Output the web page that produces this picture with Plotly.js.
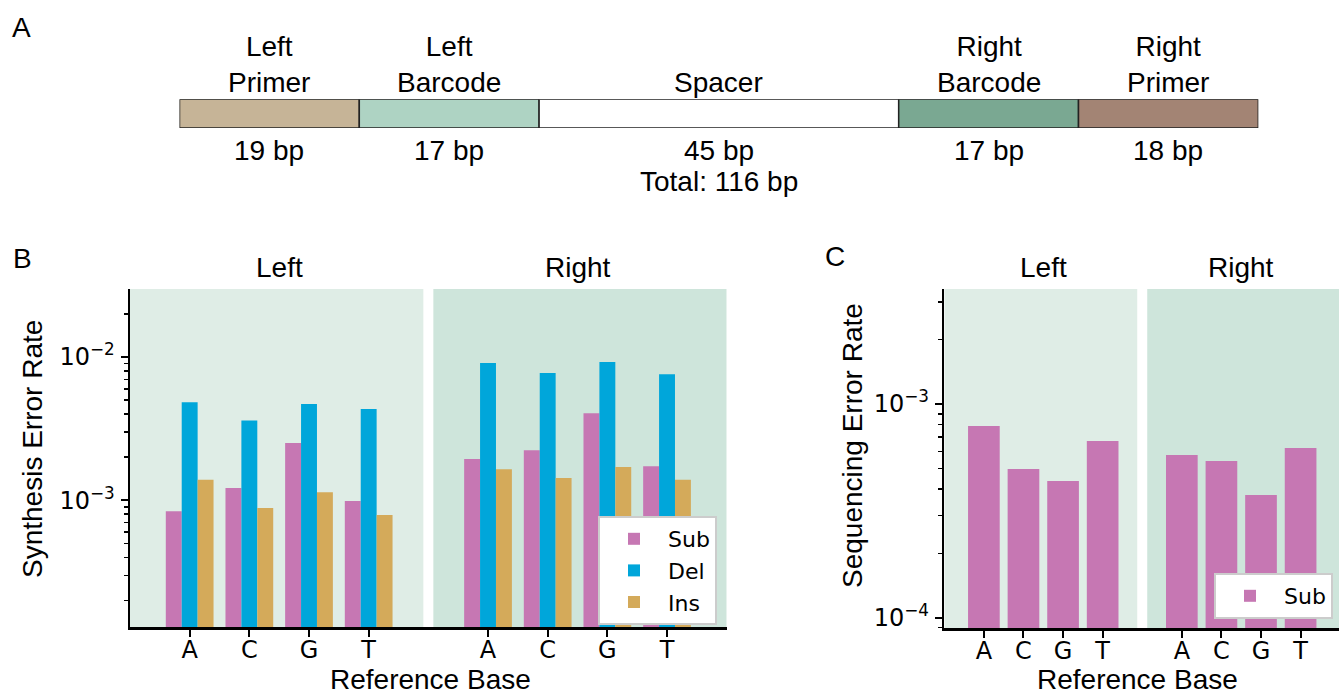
<!DOCTYPE html>
<html>
<head>
<meta charset="utf-8">
<script src="https://cdn.plot.ly/plotly-3.0.1.min.js"></script>
<style>html,body{margin:0;padding:0;background:#fff;}#chart{width:1339px;height:694px;}</style>
</head>
<body>
<div id="chart"></div>
<script>
// ---------- data ----------
const bases = ['A', 'C', 'G', 'T'];
const sides = ['Left', 'Right'];
// Panel B: synthesis error rates
const subLeft  = [8.4e-4, 1.22e-3, 2.51e-3, 9.9e-4];
const delLeft  = [4.83e-3, 3.61e-3, 4.70e-3, 4.34e-3];
const insLeft  = [1.39e-3, 8.84e-4, 1.14e-3, 7.9e-4];
const subRight = [1.94e-3, 2.24e-3, 4.06e-3, 1.73e-3];
const delRight = [9.08e-3, 7.73e-3, 9.23e-3, 7.6e-3];
const insRight = [1.65e-3, 1.43e-3, 1.71e-3, 1.39e-3];
// Panel C: sequencing substitution rates
const seqSubLeft  = [7.89e-4, 4.96e-4, 4.36e-4, 6.71e-4];
const seqSubRight = [5.77e-4, 5.41e-4, 3.75e-4, 6.22e-4];
// Panel A: construct layout
const segNames = ['Left Primer', 'Left Barcode', 'Spacer', 'Right Barcode', 'Right Primer'];
const segBp    = [19, 17, 45, 17, 18];
const segSpan  = [1, 1, 2, 1, 1];   // drawn widths (not to scale)

// ---------- styling ----------
const W = 1339, H = 694;
const px = v => v / W, py = v => 1 - v / H;
const colSub = '#c677b3', colDel = '#00a6da', colIns = '#d4aa5a';
const segColors = ['#c6b497', '#aed3c3', '#ffffff', '#7aa892', '#a38474'];
const shadeL = '#dfede6', shadeR = '#cee5db';
const helv = 'Liberation Sans, Arial, Helvetica, sans-serif';
const dv = 'DejaVu Sans, sans-serif';

const leftPos = bases.map((b, i) => i);
const rightPos = bases.map((b, i) => i + 5);
const allPos = leftPos.concat(rightPos);
const allText = bases.concat(bases);

const traces = [];
[['Sub', subLeft, subRight, colSub], ['Del', delLeft, delRight, colDel], ['Ins', insLeft, insRight, colIns]].forEach(s => {
  traces.push({
    type: 'bar', name: s[0], x: allPos, y: s[1].concat(s[2]),
    marker: {color: s[3], line: {width: 0}},
    xaxis: 'x', yaxis: 'y', legend: 'legend', hoverinfo: 'skip'
  });
});
traces.push({
  type: 'bar', name: 'Sub', x: allPos, y: seqSubLeft.concat(seqSubRight),
  marker: {color: colSub, line: {width: 0}},
  xaxis: 'x2', yaxis: 'y2', legend: 'legend2', hoverinfo: 'skip'
});
// Panel A construct bar
const segBase = [];
let acc = 0;
segSpan.forEach(s => { segBase.push(acc); acc += s; });
const totalSpan = acc;
traces.push({
  type: 'bar', orientation: 'h', x: segSpan, base: segBase, y: segSpan.map(() => 0),
  width: segSpan.map(() => 1),
  marker: {color: segColors, line: {color: '#222', width: 1.5}},
  xaxis: 'x3', yaxis: 'y3', showlegend: false, hoverinfo: 'skip', cliponaxis: false
});

function minorVals(lo, hi) {
  const v = [];
  for (let e = lo; e <= hi; e++) for (let k = 2; k <= 9; k++) v.push(k * Math.pow(10, e));
  return v;
}
const tickFont = {family: dv, size: 24, color: '#000'};
const xCommon = {
  tickmode: 'array', tickvals: allPos, ticktext: allText,
  ticks: 'outside', ticklen: 7, tickwidth: 2, tickcolor: '#000',
  showline: true, linecolor: '#000', linewidth: 2.5, showgrid: false, zeroline: false,
  tickfont: tickFont, fixedrange: true, ticklabelstandoff: -8
};
const yCommon = {
  type: 'log', ticks: 'outside', ticklen: 7, tickwidth: 2, tickcolor: '#000',
  showline: true, linecolor: '#000', linewidth: 2.5, showgrid: false, zeroline: false,
  tickfont: tickFont, fixedrange: true, ticklabelstandoff: 1
};

const layout = {
  width: W, height: H, autosize: false,
  margin: {l: 0, r: 0, t: 0, b: 0, pad: 0},
  paper_bgcolor: '#fff', plot_bgcolor: 'rgba(0,0,0,0)',
  barmode: 'group', bargap: 0.2, bargroupgap: 0,
  xaxis: Object.assign({}, xCommon, {domain: [px(130), px(726.7)], range: [-1, 9], anchor: 'y'}),
  yaxis: Object.assign({}, yCommon, {
    domain: [py(627.3), py(289)], range: [-3.886, -1.525], anchor: 'x',
    tickmode: 'array', tickvals: [1e-3, 1e-2], ticktext: ['10<sup>−3</sup>', '10<sup>−2</sup>'],
    minor: {tickmode: 'array', tickvals: minorVals(-4, -2), ticks: 'outside', ticklen: 4, tickwidth: 1.5, tickcolor: '#000', showgrid: false}
  }),
  xaxis2: Object.assign({}, xCommon, {domain: [px(944.3), 1], range: [-1, 8.97], anchor: 'y2'}),
  yaxis2: Object.assign({}, yCommon, {
    domain: [py(628.3), py(289)], range: [-4.0496, -2.462], anchor: 'x2',
    tickmode: 'array', tickvals: [1e-4, 1e-3], ticktext: ['10<sup>−4</sup>', '10<sup>−3</sup>'],
    minor: {tickmode: 'array', tickvals: minorVals(-5, -3), ticks: 'outside', ticklen: 4, tickwidth: 1.5, tickcolor: '#000', showgrid: false}
  }),
  xaxis3: {domain: [px(179.5), px(1258.3)], range: [0, totalSpan], visible: false, fixedrange: true, anchor: 'y3'},
  yaxis3: {domain: [py(128), py(99.3)], range: [-0.5, 0.5], visible: false, fixedrange: true, anchor: 'x3'},
  legend: {
    x: px(598), y: py(516), xanchor: 'left', yanchor: 'top',
    bgcolor: '#fff', bordercolor: '#cccccc', borderwidth: 2,
    font: {family: dv, size: 22, color: '#000'}, itemwidth: 58, tracegroupgap: 0
  },
  legend2: {
    x: px(1214), y: py(573), xanchor: 'left', yanchor: 'top',
    bgcolor: '#fff', bordercolor: '#cccccc', borderwidth: 2,
    font: {family: dv, size: 22, color: '#000'}, itemwidth: 58
  },
  shapes: [],
  annotations: []
};

// facet shading
[['x', 'y'], ['x2', 'y2']].forEach(ax => {
  layout.shapes.push({type: 'rect', xref: ax[0], yref: ax[1] + ' domain', x0: -1, x1: 4, y0: 0, y1: 1, fillcolor: shadeL, line: {width: 0}, layer: 'below'});
  layout.shapes.push({type: 'rect', xref: ax[0], yref: ax[1] + ' domain', x0: 4, x1: 9, y0: 0, y1: 1, fillcolor: shadeR, line: {width: 0}, layer: 'below'});
  layout.shapes.push({type: 'line', xref: ax[0], yref: ax[1] + ' domain', x0: 4, x1: 4, y0: 0, y1: 1, line: {color: '#fff', width: 10}, layer: 'below'});
});

const ann = (o) => layout.annotations.push(Object.assign({showarrow: false, font: {family: helv, size: 28, color: '#000'}}, o));

// panel letters
ann({text: 'A', xref: 'paper', yref: 'paper', x: px(21), y: py(27), xanchor: 'center', yanchor: 'middle'});
ann({text: 'B', xref: 'paper', yref: 'paper', x: px(22), y: py(258), xanchor: 'center', yanchor: 'middle'});
ann({text: 'C', xref: 'paper', yref: 'paper', x: px(835), y: py(256), xanchor: 'center', yanchor: 'middle'});

// facet titles
['x', 'x2'].forEach(a => {
  sides.forEach((s, i) => {
    ann({text: s, xref: a, yref: 'paper', x: i === 0 ? 1.5 : 6.5, y: py(267), xanchor: 'center', yanchor: 'middle'});
  });
});

// axis titles
ann({text: 'Synthesis Error Rate', xref: 'paper', yref: 'paper', x: px(32), y: py(449), textangle: -90, xanchor: 'center', yanchor: 'middle'});
ann({text: 'Sequencing Error Rate', xref: 'paper', yref: 'paper', x: px(852), y: py(445), textangle: -90, xanchor: 'center', yanchor: 'middle'});
ann({text: 'Reference Base', xref: 'paper', yref: 'paper', x: px(430), y: 0, xanchor: 'center', yanchor: 'bottom', borderpad: 0, yshift: -2});
ann({text: 'Reference Base', xref: 'paper', yref: 'paper', x: px(1137), y: 0, xanchor: 'center', yanchor: 'bottom', borderpad: 0, yshift: -2});

// panel A labels
segNames.forEach((n, i) => {
  const cx = segBase[i] + segSpan[i] / 2;
  ann({text: n.split(' ').join('<br>'), xref: 'x3', yref: 'paper', x: cx, y: py(100), xanchor: 'center', yanchor: 'bottom'});
  ann({text: segBp[i] + ' bp', xref: 'x3', yref: 'paper', x: cx, y: py(150), xanchor: 'center', yanchor: 'middle'});
});
const totalBp = segBp.reduce((a, b) => a + b, 0);
ann({text: 'Total: ' + totalBp + ' bp', xref: 'x3', yref: 'paper', x: totalSpan / 2, y: py(181), xanchor: 'center', yanchor: 'middle'});

Plotly.newPlot('chart', traces, layout, {displayModeBar: false, staticPlot: true});
</script>
</body>
</html>
